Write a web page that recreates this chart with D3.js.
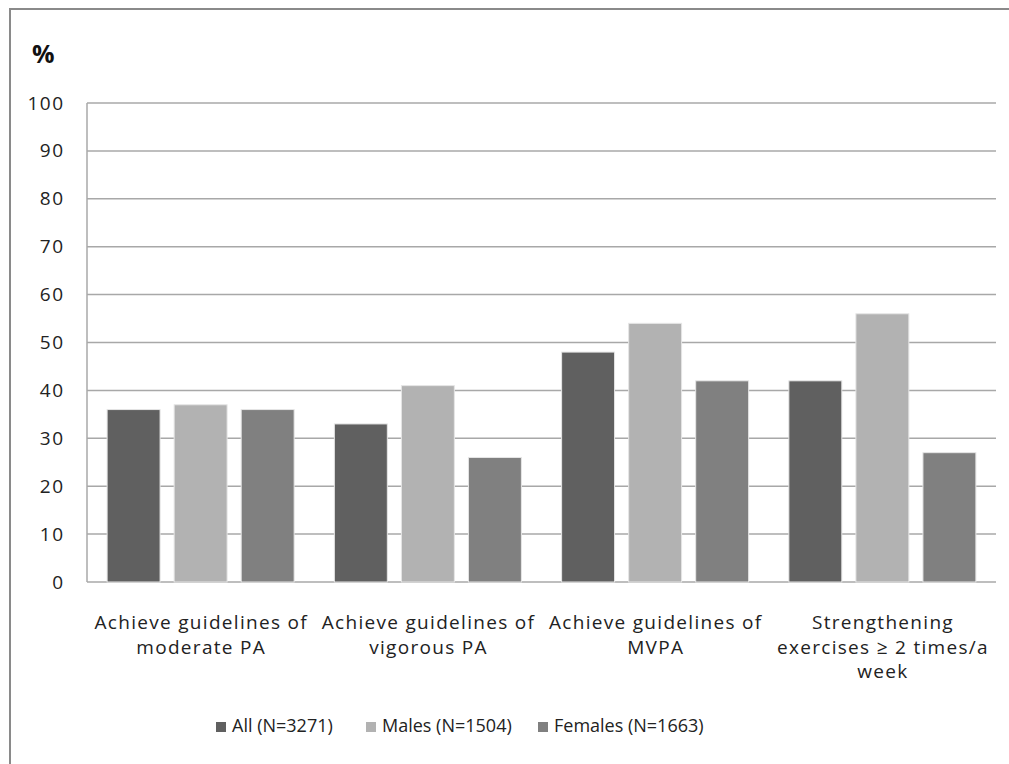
<!DOCTYPE html>
<html><head><meta charset="utf-8">
<script src="https://cdn.jsdelivr.net/npm/d3@7"></script>
<style>body{margin:0;background:#fff;} svg{display:block;}</style>
</head><body><svg id="c" width="1009" height="764"></svg>
<script>
const categories = [
  ["Achieve guidelines of", "moderate PA"],
  ["Achieve guidelines of", "vigorous PA"],
  ["Achieve guidelines of", "MVPA"],
  ["Strengthening", "exercises \u2265 2 times/a", "week"]
];
const seriesNames = ["All (N=3271)", "Males (N=1504)", "Females (N=1663)"];
const allValues = [36, 33, 48, 42];
const maleValues = [37, 41, 54, 56];
const femaleValues = [36, 26, 42, 27];
const seriesColors = ["#606060", "#b2b2b2", "#808080"];
const yTicks = [0,10,20,30,40,50,60,70,80,90,100];

const series = [allValues, maleValues, femaleValues];
const font = "'Open Sans', sans-serif";
const svg = d3.select("#c");

// outer frame
svg.append("rect").attr("x",10).attr("y",9).attr("width",1010).attr("height",770)
  .attr("fill","none").attr("stroke","#8a8a8a").attr("stroke-width",2);

const L=87, R=996, T=103, B=582;
const x0 = d3.scaleBand().domain(d3.range(categories.length)).range([L,R]).paddingInner(0).paddingOuter(0);
const x1 = d3.scaleBand().domain(d3.range(series.length)).range([0,x0.bandwidth()]).paddingInner(0.21).paddingOuter(0.3);
const y = d3.scaleLinear().domain([0,100]).range([B,T]);

// gridlines
svg.append("g").selectAll("line").data(yTicks).join("line")
  .attr("x1",L).attr("x2",R).attr("y1",d=>y(d)).attr("y2",d=>y(d))
  .attr("stroke","#a8a8a8").attr("stroke-width",1.5);
svg.append("line").attr("x1",L).attr("x2",L).attr("y1",T).attr("y2",B)
  .attr("stroke","#a8a8a8").attr("stroke-width",1.5);

// y axis labels
const yAxis = d3.axisLeft(y).tickValues(yTicks).tickSize(0).tickPadding(22.5);
const gy = svg.append("g").attr("transform",`translate(${L},0)`).call(yAxis);
gy.select(".domain").remove();
gy.selectAll("text").attr("font-family",font).attr("font-size",19).attr("letter-spacing",1.5).attr("fill","#222");

// bars
categories.forEach((c,ci)=>{
  series.forEach((s,si)=>{
    svg.append("rect")
      .attr("x", x0(ci)+x1(si)).attr("width", x1.bandwidth())
      .attr("y", y(s[ci])).attr("height", B - y(s[ci]))
      .attr("fill", seriesColors[si]).attr("stroke","#e6e6e6").attr("stroke-width",1);
  });
});

// category labels
categories.forEach((lines,ci)=>{
  const t = svg.append("text").attr("text-anchor","middle").attr("font-family",font)
    .attr("font-size",19).attr("letter-spacing",1.3).attr("fill","#222");
  lines.forEach((ln,li)=>{
    t.append("tspan").attr("x", x0(ci)+x0.bandwidth()/2+0.6).attr("y", 629+li*24.5).text(ln);
  });
});

// % label
svg.append("text").attr("x",32).attr("y",63).attr("font-family",font).attr("font-weight","bold")
  .attr("font-size",25).attr("fill","#111").text("%");

// legend
const legX = [216, 366, 538];
seriesNames.forEach((n,i)=>{
  svg.append("rect").attr("x",legX[i]).attr("y",722).attr("width",10).attr("height",10).attr("fill",seriesColors[i]);
  svg.append("text").attr("x",legX[i]+16).attr("y",732).attr("font-family",font).attr("font-size",18)
    .attr("fill","#222").text(n);
});
</script></body></html>
